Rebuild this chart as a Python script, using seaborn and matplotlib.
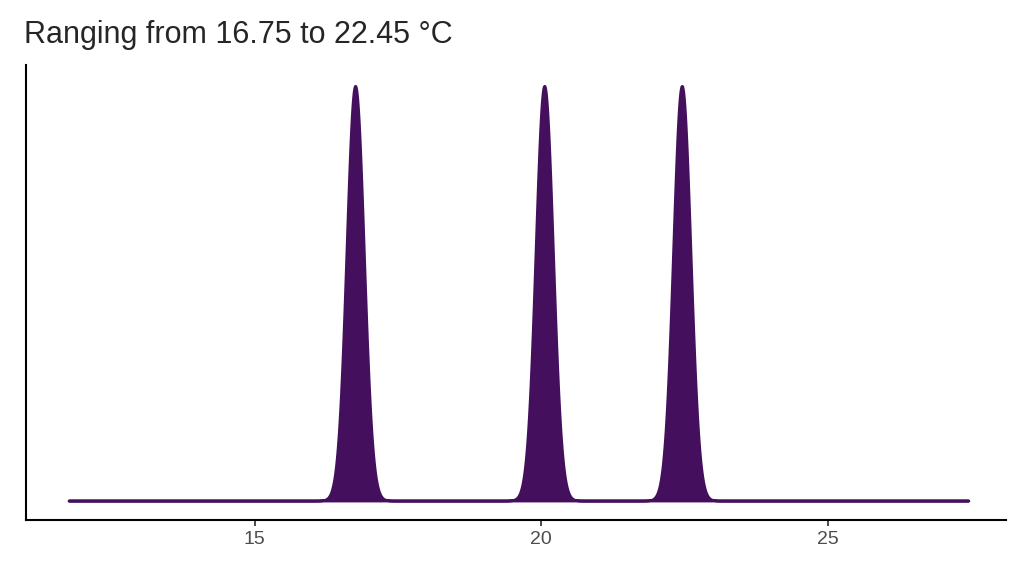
import matplotlib
matplotlib.use("Agg")
import matplotlib.pyplot as plt
import seaborn as sns
import numpy as np

temps = [16.75, 20.05, 22.45]
xticks = [15, 20, 25]
bw = 0.15
color = "#440f5c"

sns.set_theme(style="white")
plt.rcParams['font.family'] = ['Liberation Sans', 'DejaVu Sans']
fig = plt.figure(figsize=(10.24, 5.76), dpi=100)
ax = fig.add_axes([0.025, 0.097, 0.957, 0.79])
data = np.array(temps)
bw_adjust = bw / (len(data) ** (-1 / 5) * data.std(ddof=1))
sns.kdeplot(x=data, bw_adjust=bw_adjust, cut=5 / bw, gridsize=3000, fill=True,
            color=color, alpha=1, linewidth=2, ax=ax)
ax.set_xlim(11.0, 28.1)
ymax = ax.get_ylim()[1]
ax.set_ylim(-ymax * 0.045, ymax)
ax.set_xticks(xticks)
ax.set_xticklabels([str(t) for t in xticks], fontsize=14, color="#4d4d4d")
ax.tick_params(axis="x", bottom=True, length=4, color="#333333")
ax.set_yticks([])
ax.set_xlabel("")
ax.set_ylabel("")
for s in ["top", "right"]:
    ax.spines[s].set_visible(False)
for s in ["left", "bottom"]:
    ax.spines[s].set_color("black")
    ax.spines[s].set_linewidth(1.5)
fig.text(0.023, 0.925, "Ranging from 16.75 to 22.45 °C", fontsize=22, ha="left")
fig.savefig("out.png", dpi=100)
